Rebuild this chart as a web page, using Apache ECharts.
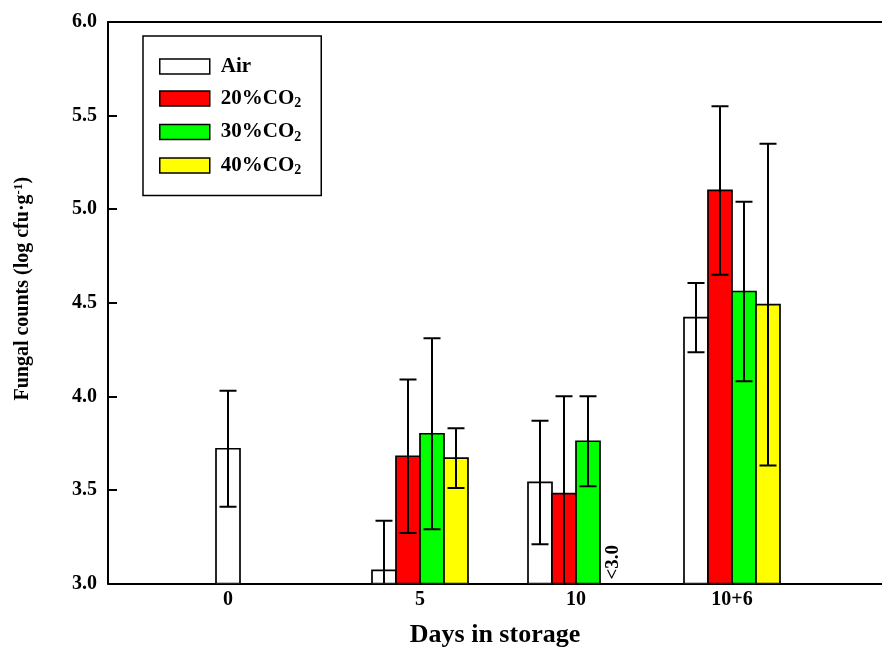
<!DOCTYPE html>
<html>
<head>
<meta charset="utf-8">
<script src="https://cdn.jsdelivr.net/npm/echarts@6/dist/echarts.min.js"></script>
<style>
html, body { margin: 0; padding: 0; background: #fff; }
#chart { width: 882px; height: 652px; }
</style>
</head>
<body>
<div id="chart"></div>
<script>
// data
var categories = ['0', '5', '10', '10+6'];
var catX = [5, 13, 19.5, 26];          // group centre on the x scale (1 unit = one bar)
var airMean = [3.72, 3.07, 3.54, 4.42];
var airSd = [0.31, 0.265, 0.33, 0.185];
var co2_20Mean = [null, 3.68, 3.48, 5.10];
var co2_20Sd = [null, 0.41, 0.52, 0.45];
var co2_30Mean = [null, 3.80, 3.76, 4.56];
var co2_30Sd = [null, 0.51, 0.24, 0.48];
var co2_40Mean = [null, 3.67, null, 4.49];
var co2_40Sd = [null, 0.16, null, 0.86];
var co2_40Note = [null, null, '<3.0', null];   // below detection limit
var yMin = 3.0, yMax = 6.0, yStep = 0.5;

var FONT = 'Liberation Serif';

var groups = [
    { name: 'Air', color: '#ffffff', mean: airMean, sd: airSd, note: [] },
    { name: '20%CO2', color: '#ff0000', mean: co2_20Mean, sd: co2_20Sd, note: [] },
    { name: '30%CO2', color: '#00ff00', mean: co2_30Mean, sd: co2_30Sd, note: [] },
    { name: '40%CO2', color: '#ffff00', mean: co2_40Mean, sd: co2_40Sd, note: co2_40Note }
];

function present(g, i) {
    return g.mean[i] != null || g.note[i] != null;
}

// slot offset of series s inside category i (groups with one bar are centred)
function slotOffset(s, i) {
    var list = groups.filter(function (g) { return present(g, i); });
    var k = list.indexOf(groups[s]);
    return k - (list.length - 1) / 2;
}

function makeRender(g, items) {
    return function (params, api) {
        var it = items[params.dataIndex];
        var x = api.value(0), y = api.value(1);
        var w = api.size([1, 0])[0];
        var base = api.coord([x, yMin]);
        var children = [];
        if (it.note) {
            children.push({
                type: 'text',
                x: base[0] + 1,
                y: base[1] - 4,
                rotation: Math.PI / 2,
                style: {
                    text: it.note, fill: '#000', align: 'left', verticalAlign: 'middle',
                    font: 'bold 19px "' + FONT + '"'
                }
            });
            return { type: 'group', children: children };
        }
        var top = api.coord([x, y]);
        children.push({
            type: 'rect',
            shape: { x: top[0] - w / 2, y: top[1], width: w, height: base[1] - top[1] },
            style: { fill: g.color, stroke: '#000', lineWidth: 1.7 }
        });
        if (it.sd != null) {
            var hi = api.coord([x, y + it.sd]);
            var lo = api.coord([x, y - it.sd]);
            var capW = 8.5;
            var loY = Math.min(lo[1], base[1]);
            children.push({
                type: 'line',
                shape: { x1: top[0], y1: hi[1], x2: top[0], y2: loY },
                style: { stroke: '#000', lineWidth: 2 }
            });
            children.push({
                type: 'line',
                shape: { x1: top[0] - capW, y1: hi[1], x2: top[0] + capW, y2: hi[1] },
                style: { stroke: '#000', lineWidth: 2 }
            });
            if (lo[1] < base[1]) {
                children.push({
                    type: 'line',
                    shape: { x1: top[0] - capW, y1: lo[1], x2: top[0] + capW, y2: lo[1] },
                    style: { stroke: '#000', lineWidth: 2 }
                });
            }
        }
        return { type: 'group', children: children };
    };
}

var series = groups.map(function (g, s) {
    var items = [];
    var data = [];
    categories.forEach(function (c, i) {
        if (!present(g, i)) return;
        var v = g.mean[i] != null ? g.mean[i] : yMin;
        items.push({ sd: g.sd[i], note: g.note[i] });
        data.push([catX[i] + slotOffset(s, i), v]);
    });
    return {
        name: g.name,
        type: 'custom',
        xAxisIndex: 0,
        yAxisIndex: 0,
        clip: true,
        itemStyle: { color: g.color, borderColor: '#000', borderWidth: 1.5 },
        encode: { x: 0, y: 1 },
        renderItem: makeRender(g, items),
        data: data
    };
});

var myChart = echarts.init(document.getElementById('chart'));

var option = {
    backgroundColor: '#fff',
    animation: false,
    grid: { left: 108, right: 0, top: 22, bottom: 68.5, outerBoundsMode: 'none', containLabel: false },
    legend: {
        orient: 'vertical',
        left: 143,
        top: 36,
        icon: 'rect',
        itemWidth: 50,
        itemHeight: 15,
        itemGap: 11,
        padding: [20, 20, 18, 16],
        borderColor: '#000',
        borderWidth: 1.5,
        itemStyle: { borderColor: '#000', borderWidth: 1.5 },
        textStyle: {
            fontFamily: FONT, fontWeight: 'bold', fontSize: 21, color: '#000',
            padding: [0, 0, 0, 6],
            rich: {
                a: { fontFamily: FONT, fontWeight: 'bold', fontSize: 21, color: '#000' },
                sub: { fontFamily: FONT, fontWeight: 'bold', fontSize: 14, color: '#000', padding: [10, 0, 0, 0] }
            }
        },
        formatter: function (name) {
            var m = name.match(/^(.*CO)2$/);
            return m ? '{a|' + m[1] + '}{sub|2}' : '{a|' + name + '}';
        },
        data: groups.map(function (g) { return g.name; })
    },
    xAxis: [
        {
            type: 'value',
            min: 0,
            max: 32.25,
            name: 'Days in storage',
            nameLocation: 'middle',
            nameGap: 39,
            nameTextStyle: { fontFamily: FONT, fontWeight: 'bold', fontSize: 26, color: '#000' },
            axisLine: { lineStyle: { color: '#000', width: 2 } },
            axisTick: { show: false },
            splitLine: { show: false },
            axisLabel: {
                customValues: catX,
                margin: 6,
                fontFamily: FONT, fontWeight: 'bold', fontSize: 20, color: '#000',
                formatter: function (v) {
                    var i = catX.indexOf(v);
                    return i >= 0 ? categories[i] : '';
                }
            }
        },
        {
            type: 'value',
            position: 'top',
            min: 0,
            max: 32.25,
            axisLine: { show: true, lineStyle: { color: '#000', width: 2 } },
            axisTick: { show: false },
            axisLabel: { show: false },
            splitLine: { show: false }
        }
    ],
    yAxis: {
        type: 'value',
        min: yMin,
        max: yMax,
        interval: yStep,
        name: '{t|Fungal counts (log cfu·g}{sup|-1}{t|)}',
        nameLocation: 'middle',
        nameGap: 74,
        nameTextStyle: {
            padding: [0, 0, 0, 28],
            rich: {
                t: { fontFamily: FONT, fontWeight: 'bold', fontSize: 20, color: '#000' },
                sup: { fontFamily: FONT, fontWeight: 'bold', fontSize: 13, color: '#000', padding: [0, 0, 9, 0] }
            }
        },
        axisLine: { show: true, lineStyle: { color: '#000', width: 2 } },
        axisTick: { show: true, inside: true, length: 9, lineStyle: { color: '#000', width: 2 } },
        splitLine: { show: false },
        axisLabel: {
            margin: 11,
            fontFamily: FONT, fontWeight: 'bold', fontSize: 20, color: '#000',
            formatter: function (v) { return v.toFixed(1); }
        }
    },
    series: series
};

myChart.setOption(option);
window.addEventListener('resize', function () {
    myChart.resize();
});
</script>
</body>
</html>
